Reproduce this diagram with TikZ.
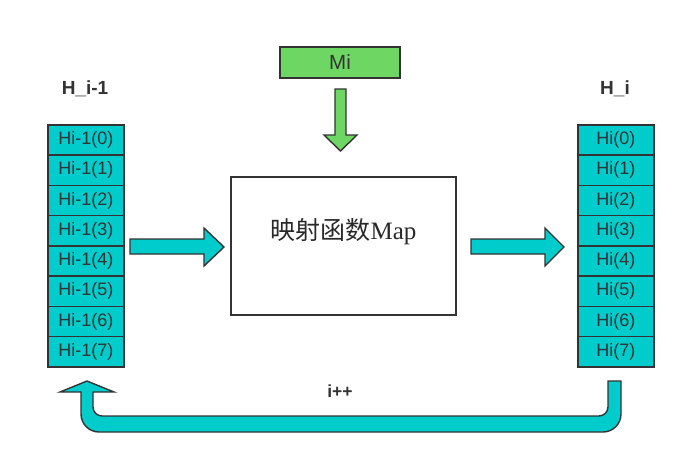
\documentclass[tikz,border=0pt]{standalone}
\usepackage{fontspec}
\setmainfont{Liberation Sans}
\newfontfamily\cjk{Noto Sans CJK SC}
\newfontfamily\serifmap{Liberation Serif}
\definecolor{cyanfill}{HTML}{00CCCC}
\definecolor{greenfill}{HTML}{6ED763}
\definecolor{edge}{HTML}{333333}
\begin{document}
\begin{tikzpicture}[x=1pt,y=-1pt,
  cell/.style={draw=edge,line width=1.6pt,fill=cyanfill,minimum width=76pt,minimum height=30.25pt,inner sep=0pt,anchor=north west,text=edge,font=\fontsize{18}{20}\selectfont},
  head/.style={font=\bfseries\fontsize{19}{22}\selectfont,text=edge},
  fat/.style={draw=edge,line width=1.4pt,line join=miter}]
\useasboundingbox (0,0) rectangle (686,464);
% columns
\foreach \i in {0,...,7}{
  \node[cell] (L\i) at (47,{124+30.25*\i}) {Hi-1(\i)};
  \node[cell] (R\i) at (577,{124+30.25*\i}) {Hi(\i)};
}
\node[head] (HL) at (85,89) {H\_i-1};
\node[head] (HR) at (615,89) {H\_i};
% Mi
\node[draw=edge,line width=1.6pt,fill=greenfill,minimum width=120pt,minimum height=31pt,inner sep=0pt,text=edge,font=\fontsize{20.5}{22}\selectfont] (Mi) at (340,62.5) {Mi};
% Map box
\node[draw=edge,line width=1.6pt,fill=white,minimum width=225pt,minimum height=138pt,inner sep=0pt] (Map) at (343.5,246) {};
\node[text=edge!80!black,font=\fontsize{25}{27}\selectfont] (MapT) at (343.5,232) {\cjk 映射函数\serifmap Map};
% green arrow down
\fill[greenfill,fat,draw=edge] (335,89) -- (346,89) -- (346,135) -- (357,135) -- (340.5,151) -- (324,135) -- (335,135) -- cycle;
% left arrow
\fill[cyanfill,fat,draw=edge] (130,239) -- (204,239) -- (204,228) -- (224,247) -- (204,266) -- (204,254) -- (130,254) -- cycle;
% right arrow
\fill[cyanfill,fat,draw=edge] (471,239) -- (545,239) -- (545,228) -- (564,247) -- (545,266) -- (545,254) -- (471,254) -- cycle;
% bottom U arrow
\fill[cyanfill,fat,draw=edge] (608,381) -- (621,381)
  [rounded corners=18pt] -- (621,432) -- (81,432) [sharp corners] -- (81,392)
  -- (60,392) -- (87,381) -- (114,392) -- (93,392)
  [rounded corners=9pt] -- (93,416) -- (608,416) [sharp corners] -- (608,381) -- cycle;
\node[head,font=\bfseries\fontsize{17.5}{20}\selectfont] (inc) at (340,391) {i++};
\end{tikzpicture}
\end{document}
